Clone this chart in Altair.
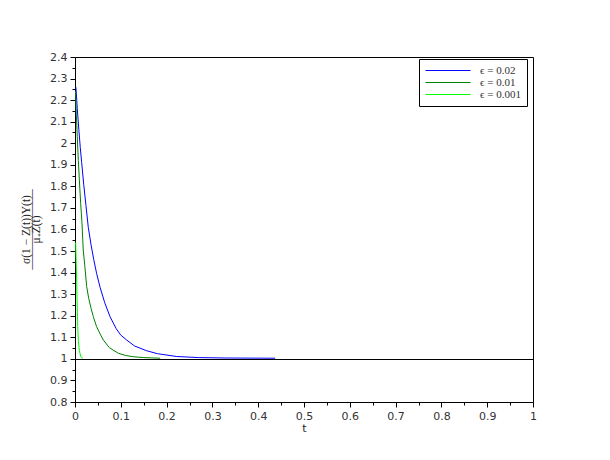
import altair as alt
import pandas as pd

# ---- data ----
t_eps_002 = [0.002, 0.005, 0.0085, 0.0115, 0.0146, 0.019, 0.024, 0.029, 0.035, 0.041,
             0.0473, 0.055, 0.065, 0.0764, 0.09, 0.1, 0.113, 0.13, 0.156, 0.18,
             0.222, 0.27, 0.33, 0.437]
y_eps_002 = [2.26, 2.16, 2.06, 1.98, 1.91, 1.81, 1.71, 1.61, 1.53, 1.46,
             1.395, 1.33, 1.26, 1.196, 1.14, 1.11, 1.087, 1.06, 1.038, 1.024,
             1.011, 1.006, 1.004, 1.003]

t_eps_001 = [0.001, 0.003, 0.005, 0.0073, 0.0095, 0.0124, 0.015, 0.018, 0.0215, 0.0255,
             0.030, 0.035, 0.040, 0.047, 0.055, 0.062, 0.075, 0.0946, 0.11, 0.127,
             0.15, 0.186]
y_eps_001 = [2.24, 2.13, 2.03, 1.92, 1.83, 1.72, 1.64, 1.505, 1.43, 1.335,
             1.28, 1.235, 1.196, 1.15, 1.115, 1.087, 1.052, 1.026, 1.016, 1.01,
             1.006, 1.003]

t_eps_0001 = [0.0015, 0.003, 0.0045, 0.006, 0.0075, 0.0095, 0.0125, 0.0175]
y_eps_0001 = [1.54, 1.42, 1.28, 1.15, 1.08, 1.04, 1.01, 1.002]

series_labels = ["ϵ = 0.02", "ϵ = 0.01", "ϵ = 0.001"]
series_colors = ["#0000ff", "#008000", "#00ff00"]

reference_level = 1.0

x_ticks = [round(i * 0.05, 2) for i in range(21)]
y_ticks = [round(0.8 + i * 0.05, 2) for i in range(33)]

y_title = ["σ(1 − Z(t))Y(t)", "———————", "μ₊Z(t)"]

rows = []
for lab, ts, ys in zip(series_labels,
                       [t_eps_002, t_eps_001, t_eps_0001],
                       [y_eps_002, y_eps_001, y_eps_0001]):
    for t, v in zip(ts, ys):
        rows.append({"t": t, "v": v, "series": lab})
df = pd.DataFrame(rows)

major = "round(datum.value*20) % 2 === 0"
label_expr = f"{major} ? format(datum.value, '.1~f') : ''"
tick_size = {"condition": {"test": major, "value": 5}, "value": 3}

x_axis = alt.Axis(values=x_ticks, labelExpr=label_expr, tickSize=tick_size,
                  grid=False, title="t", titlePadding=1,
                  labelPadding=3, labelFlush=False, labelOverlap=False)
y_axis = alt.Axis(values=y_ticks, labelExpr=label_expr, tickSize=tick_size,
                  grid=False, title=y_title,
                  titleX=-49, titleY=172, titleAngle=270,
                  titleAlign="center", titleBaseline="middle",
                  titleFont="Liberation Serif", titleFontSize=11.5,
                  titleFontWeight="normal", titleLineHeight=5,
                  titleColor="#222222",
                  labelPadding=3, labelFlush=False, labelOverlap=False)

y_scale = alt.Scale(domain=[0.8, 2.4], nice=False, zero=False)

rule = alt.Chart(df).mark_rule(color="black", strokeWidth=1, yOffset=0.625).encode(
    y=alt.datum(reference_level, type="quantitative", scale=y_scale, axis=y_axis)
)

lines = alt.Chart(df).mark_line(strokeWidth=1, clip=True).encode(
    x=alt.X("t:Q", scale=alt.Scale(domain=[0, 1], nice=False, zero=False), axis=x_axis),
    y=alt.Y("v:Q", scale=y_scale, axis=y_axis),
    color=alt.Color("series:N",
                    scale=alt.Scale(domain=series_labels, range=series_colors),
                    sort=series_labels,
                    legend=alt.Legend(title=None, orient="none", legendX=344, legendY=2,
                                      symbolType="M-1,0H8", symbolSize=100,
                                      symbolStrokeWidth=1,
                                      labelFont="Liberation Serif", labelFontSize=11,
                                      labelColor="#333333", labelOffset=44,
                                      strokeColor="black", fillColor="white",
                                      padding=6, rowPadding=0, cornerRadius=0)),
    order="t:Q",
)

chart = alt.layer(rule, lines).properties(
    width=458, height=345,
    autosize=alt.AutoSizeParams(type="none"),
    padding={"left": 67, "top": 49, "right": 60, "bottom": 40},
).configure_view(
    stroke="black", strokeWidth=1
).configure_axis(
    domainColor="black", tickColor="black", labelColor="#333333",
    labelFont="DejaVu Sans", labelFontSize=11,
    titleFont="DejaVu Sans", titleFontSize=11, titleFontWeight="normal",
    titleColor="#222222", labelOverlap=False,
)

chart.save("out.html", embed_options={"renderer": "svg", "actions": False})
